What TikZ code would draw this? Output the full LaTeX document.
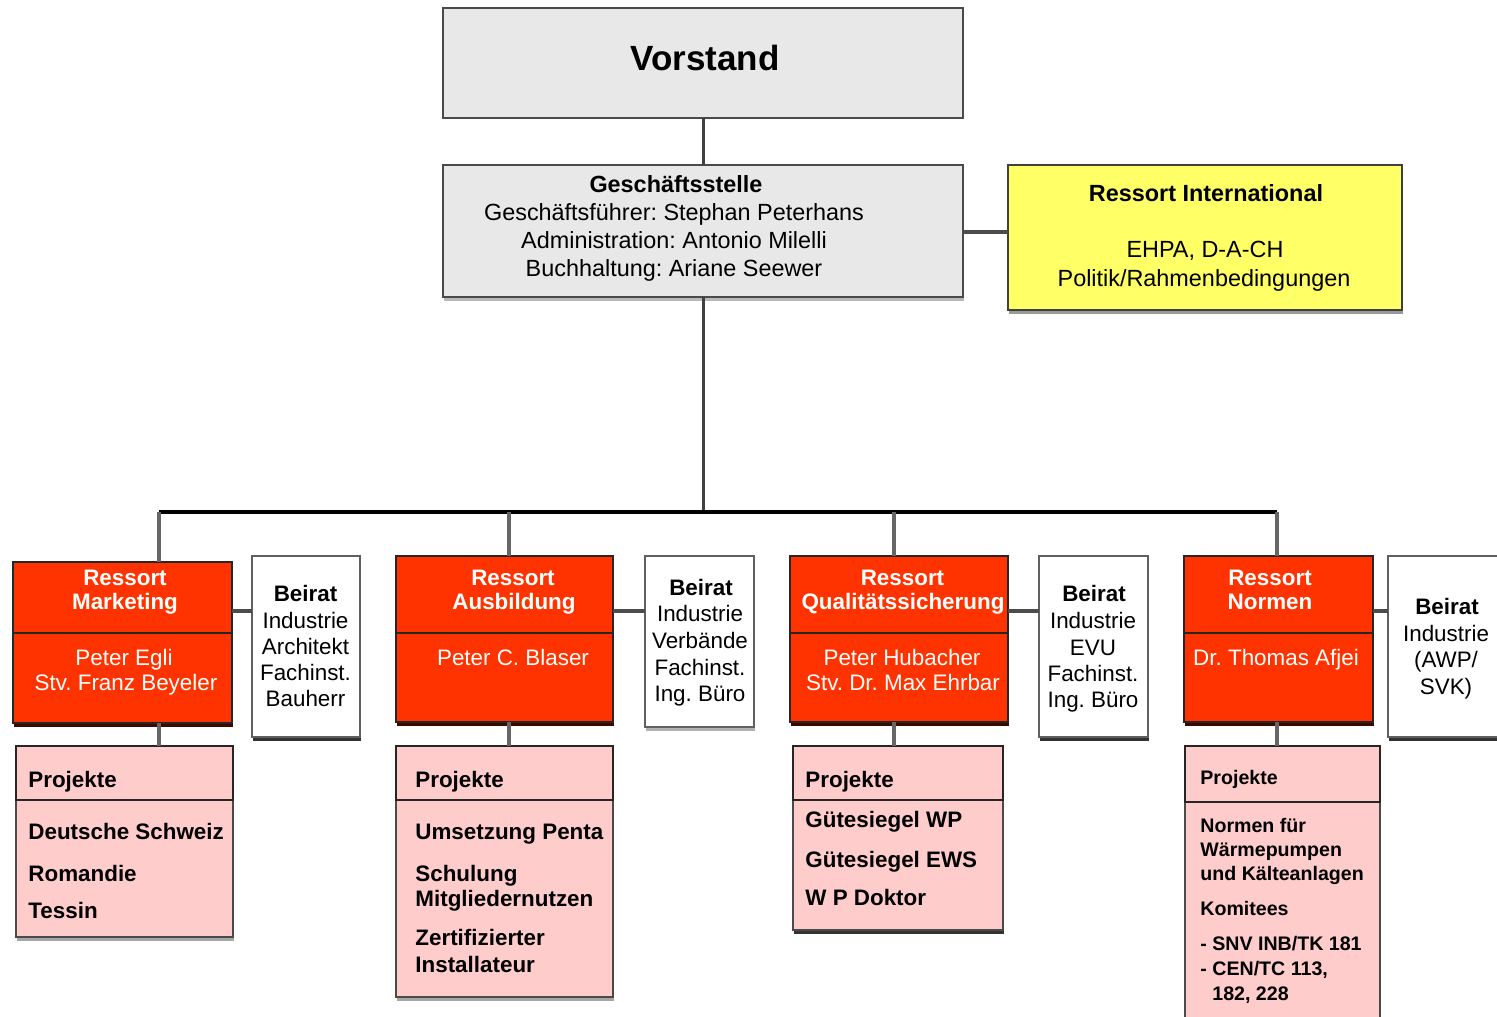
\documentclass[tikz,border=0pt]{standalone}
\usepackage{fontspec}
\setmainfont{Liberation Sans}
\usetikzlibrary{shadows}
\definecolor{boxgray}{HTML}{E8E8E8}
\definecolor{rred}{HTML}{FF3300}
\definecolor{rpink}{HTML}{FFCCCC}
\definecolor{ryellow}{HTML}{FFFF66}
\definecolor{edge}{HTML}{4A4A4A}
\definecolor{darkred}{HTML}{3A0A00}
\frenchspacing
\begin{document}
\frenchspacing
\begin{tikzpicture}[x=0.5pt,y=-0.5pt,
  box/.style={rectangle,draw=edge,line width=1pt,inner sep=0pt,outer sep=0pt},
  graybox/.style={box,fill=boxgray},
  yelbox/.style={box,fill=ryellow,draw=black!75},
  redbox/.style={box,fill=rred,draw=black!85},
  pinkbox/.style={box,fill=rpink},
  beibox/.style={box,fill=white,draw=gray!75!black},
  sh/.style={drop shadow={shadow xshift=0.4pt,shadow yshift=-2.2pt,fill=#1,opacity=1}},
  ln/.style={inner sep=0pt,anchor=base,font=\fontsize{11.2}{13}\selectfont},
  lnb/.style={ln,font=\fontsize{11.2}{13}\selectfont\bfseries},
  lnw/.style={lnb,anchor=base west},
  smw/.style={inner sep=0pt,anchor=base west,font=\fontsize{9.8}{12}\selectfont\bfseries},
  big/.style={inner sep=0pt,anchor=base,font=\fontsize{11.7}{14}\selectfont},
  wt/.style={text=white},
  conn/.style={draw=black!75,line width=1.5pt},
  bus/.style={draw=black,line width=2pt},
  drop/.style={draw=black!60,line width=1.7pt},
  side/.style={draw=black!70,line width=2.2pt}
]
\useasboundingbox (0,0) rectangle (1497,1016);

% ---------- top boxes ----------
\node[graybox,minimum width=260pt,minimum height=55pt] (vor) at (703,63) {};
\node[graybox,sh=gray!55,minimum width=260pt,minimum height=66pt] (gs) at (703,231) {};
\node[yelbox,sh=gray!80,minimum width=197pt,minimum height=72.5pt] (int) at (1205,237.5) {};

% ---------- Ressort boxes (header + persons) ----------
\node[redbox,sh=darkred,minimum width=109.5pt,minimum height=45pt] (rmp) at (122.5,678) {};
\node[redbox,minimum width=109.5pt,minimum height=35.5pt] (rmh) at (122.5,597.5) {};
\node[redbox,sh=darkred,minimum width=108.5pt,minimum height=44.5pt] (rap) at (504.5,677.5) {};
\node[redbox,minimum width=108.5pt,minimum height=38.5pt] (rah) at (504.5,594.5) {};
\node[redbox,sh=darkred,minimum width=109pt,minimum height=44.5pt] (rqp) at (899,677.5) {};
\node[redbox,minimum width=109pt,minimum height=38.5pt] (rqh) at (899,594.5) {};
\node[redbox,sh=darkred,minimum width=94.5pt,minimum height=44.5pt] (rnp) at (1278.5,677.5) {};
\node[redbox,minimum width=94.5pt,minimum height=38.5pt] (rnh) at (1278.5,594.5) {};

% ---------- Beirat boxes ----------
\node[beibox,sh=gray!40!black,minimum width=54pt,minimum height=90.5pt] (b1) at (306,646.5) {};
\node[beibox,sh=gray!60,minimum width=54.5pt,minimum height=85.5pt] (b2) at (699.5,641.5) {};
\node[beibox,sh=gray!40!black,minimum width=54.5pt,minimum height=90.5pt] (b3) at (1093.5,646.5) {};
\node[beibox,sh=gray!40!black,minimum width=58.5pt,minimum height=90.5pt] (b4) at (1446.5,646.5) {};

% ---------- Projekte boxes ----------
\node[pinkbox,sh=gray!70,minimum width=108.5pt,minimum height=68.5pt] (p1b) at (124.5,868.5) {};
\node[pinkbox,draw=black!85,minimum width=108.5pt,minimum height=27pt] (p1h) at (124.5,773) {};
\node[pinkbox,sh=gray!70,minimum width=108.5pt,minimum height=98.5pt] (p2b) at (504.5,898.5) {};
\node[pinkbox,draw=black!85,minimum width=108.5pt,minimum height=27pt] (p2h) at (504.5,773) {};
\node[pinkbox,sh=gray!40!black,minimum width=105pt,minimum height=65pt] (p3b) at (898,865) {};
\node[pinkbox,draw=black!85,minimum width=105pt,minimum height=27pt] (p3h) at (898,773) {};
\node[pinkbox,minimum width=97.5pt,minimum height=114pt] (p4b) at (1282.5,916) {};
\node[pinkbox,draw=black!85,minimum width=97.5pt,minimum height=28pt] (p4h) at (1282.5,774) {};

% ---------- connectors ----------
\draw[conn] (vor.south) -- (gs.north);
\draw[side] (gs.east |- 0,232) -- (int.west |- 0,232);
\coordinate (j) at (703,512);
\draw[conn] (gs.south) -- (j);
\coordinate (d1) at (159,512);
\coordinate (d2) at (509,512);
\coordinate (d3) at (894,512);
\coordinate (d4) at (1277,512);
\draw[bus] (d1) -- (d4);
\draw[drop] (d1) -- (d1 |- rmh.north);
\draw[drop] (d2) -- (d2 |- rah.north);
\draw[drop] (d3) -- (d3 |- rqh.north);
\draw[drop] (d4) -- (d4 |- rnh.north);
\draw[drop] (d1 |- rmp.south) -- (d1 |- p1h.north);
\draw[drop] (d2 |- rap.south) -- (d2 |- p2h.north);
\draw[drop] (d3 |- rqp.south) -- (d3 |- p3h.north);
\draw[drop] (d4 |- rnp.south) -- (d4 |- p4h.north);
\coordinate (s1) at (232,611);
\coordinate (s2) at (613,611);
\coordinate (s3) at (1008,611);
\coordinate (s4) at (1373,611);
\draw[side] (s1) -- (s1 -| b1.west);
\draw[side] (s2) -- (s2 -| b2.west);
\draw[side] (s3) -- (s3 -| b3.west);
\draw[side] (s4) -- (s4 -| b4.west);

% ---------- texts: top ----------
\node[inner sep=0pt,anchor=base,font=\fontsize{17.5}{20}\selectfont\bfseries] (vorT) at (705,70.5) {Vorstand};
\node[big,font=\fontsize{11.7}{14}\selectfont\bfseries] (gsT0) at (676,192.5) {Geschäftsstelle};
\foreach \t/\yy [count=\i] in {{Geschäftsführer: Stephan Peterhans}/212,{Administration: Antonio Milelli}/240,{Buchhaltung: Ariane Seewer}/268}
  \node[big] (gsT\i) at (674,\yy+8.5) {\t};
\node[big,font=\fontsize{11.7}{14}\selectfont\bfseries] (intT) at (1206,201.5) {Ressort International};
\node[big] (intA) at (1205,257.5) {EHPA, D-A-CH};
\node[big] (intB) at (1204,286.5) {Politik/Rahmenbedingungen};

% ---------- texts: Ressorts ----------
\node[lnb,wt] (rmT1) at (125,585) {Ressort};
\node[lnb,wt] (rmT2) at (125,609) {Marketing};
\node[ln,wt] (rmP1) at (124,665) {Peter Egli};
\node[ln,wt] (rmP2) at (126,690) {Stv. Franz Beyeler};
\node[lnb,wt] (raT1) at (513,585) {Ressort};
\node[lnb,wt] (raT2) at (514,609) {Ausbildung};
\node[ln,wt] (raP1) at (513,665) {Peter C. Blaser};
\node[lnb,wt] (rqT1) at (902.5,585) {Ressort};
\node[lnb,wt] (rqT2) at (903,609) {Qualitätssicherung};
\node[ln,wt] (rqP1) at (902,665) {Peter Hubacher};
\node[ln,wt] (rqP2) at (903,690) {Stv. Dr. Max Ehrbar};
\node[lnb,wt] (rnT1) at (1270,585) {Ressort};
\node[lnb,wt] (rnT2) at (1270,609) {Normen};
\node[ln,wt] (rnP1) at (1276,665) {Dr. Thomas Afjei};

% ---------- texts: Beirat ----------
\node[lnb] (b1T) at (305.5,601) {Beirat};
\foreach \t/\yy [count=\i] in {Industrie/620,Architekt/646,Fachinst./672,Bauherr/698}
  \node[ln] (b1L\i) at (305.5,\yy+8) {\t};
\node[lnb] (b2T) at (701,595) {Beirat};
\foreach \t/\yy [count=\i] in {Industrie/613,Verbände/640,Fachinst./667,Ing. Büro/693}
  \node[ln] (b2L\i) at (700,\yy+8) {\t};
\node[lnb] (b3T) at (1094,601) {Beirat};
\foreach \t/\yy [count=\i] in {Industrie/620,EVU/647,Fachinst./673,Ing. Büro/699}
  \node[ln] (b3L\i) at (1093,\yy+8) {\t};
\node[lnb] (b4T) at (1447,614) {Beirat};
\foreach \t/\yy [count=\i] in {Industrie/633,{(AWP/}/659,{SVK)}/686}
  \node[ln] (b4L\i) at (1446,\yy+8) {\t};

% ---------- texts: Projekte ----------
\node[lnw] (p1T) at (28,787) {Projekte};
\foreach \t/\yy [count=\i] in {Deutsche Schweiz/831,Romandie/873,Tessin/910}
  \node[lnw] (p1L\i) at (28,\yy+8) {\t};
\node[lnw] (p2T) at (415,787) {Projekte};
\foreach \t/\yy [count=\i] in {Umsetzung Penta/831,Schulung/873,Mitgliedernutzen/898,Zertifizierter/937,Installateur/964}
  \node[lnw] (p2L\i) at (415,\yy+8) {\t};
\node[lnw] (p3T) at (805,787) {Projekte};
\foreach \t/\yy [count=\i] in {Gütesiegel WP/819,Gütesiegel EWS/859,W P Doktor/897}
  \node[lnw] (p3L\i) at (805,\yy+8) {\t};
\node[smw] (p4T) at (1200,784) {Projekte};
\foreach \t/\yy [count=\i] in {Normen für/825,Wärmepumpen/849,und Kälteanlagen/873,Komitees/908,{- SNV INB/TK 181}/943,{- CEN/TC 113,}/968}
  \node[smw] (p4L\i) at (1200,\yy+7) {\t};
\node[smw] (p4L7) at (1212,1000) {182, 228};
\end{tikzpicture}
\end{document}
